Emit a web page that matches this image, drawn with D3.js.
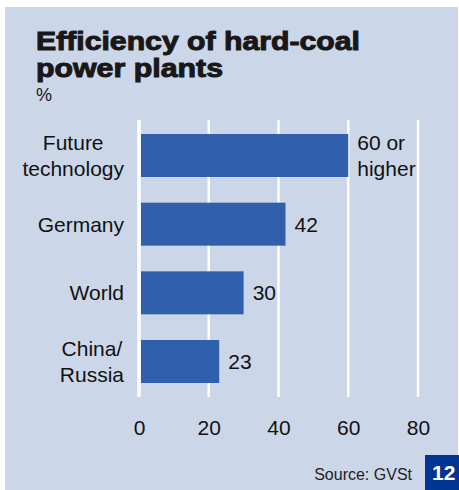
<!DOCTYPE html>
<html>
<head>
<meta charset="utf-8">
<script src="https://cdn.jsdelivr.net/npm/d3@7/dist/d3.min.js"></script>
<style>
  html, body { margin: 0; padding: 0; background: #ffffff; }
  svg { display: block; }
  text { font-family: "Liberation Sans", Arial, Helvetica, sans-serif; }
</style>
</head>
<body>
<script>
// ---- data ----
const categories = [["Future", "technology"], ["Germany"], ["World"], ["China/", "Russia"]];
const values = [60, 42, 30, 23];
const valueLabels = [["60 or", "higher"], ["42"], ["30"], ["23"]];
const tickValues = [0, 20, 40, 60, 80];
const titleLines = ["Efficiency of hard-coal", "power plants"];
const unitLabel = "%";
const sourceLabel = "Source: GVSt";
const pageNumber = "12";

const W = 459, H = 490;
const svg = d3.select("body").append("svg").attr("width", W).attr("height", H);

// background panel
svg.append("rect").attr("x", 5).attr("y", 7).attr("width", 453).attr("height", H - 7)
  .attr("fill", "#cbd7e9");

// title (one text element, two lines)
const title = svg.append("text").attr("font-size", 26).attr("font-weight", "bold")
  .attr("fill", "#1a1718").attr("stroke", "#1a1718").attr("stroke-width", 1);
const titleWidths = [324, 187];
titleLines.forEach((ln, j) => {
  title.append("tspan").attr("x", 36).attr("y", 50 + j * 27)
    .attr("textLength", titleWidths[j]).attr("lengthAdjust", "spacingAndGlyphs").text(ln);
});
svg.append("text").attr("x", 36).attr("y", 101).text(unitLabel)
  .attr("font-size", 18).attr("fill", "#1a1718");

// scales
const x = d3.scaleLinear().domain([0, 80]).range([139, 418]);
const y = d3.scaleBand().domain(d3.range(categories.length)).range([120, 397])
  .paddingInner(0.374).paddingOuter(0.204);

// grid lines
svg.append("g").selectAll("line").data(tickValues).join("line")
  .attr("x1", d => x(d)).attr("x2", d => x(d))
  .attr("y1", 120).attr("y2", 397)
  .attr("stroke", "#ffffff").attr("stroke-width", d => d === 0 ? 3.5 : 2.5);

// x axis labels
const xAxis = d3.axisBottom(x).tickValues(tickValues).tickSize(0).tickPadding(0).tickFormat(d3.format("d"));
const gx = svg.append("g").attr("transform", "translate(0,419)").call(xAxis);
gx.select(".domain").remove();
gx.selectAll("text").attr("font-size", 21).attr("fill", "#111").attr("dy", "0.76em")
  .attr("font-family", "Liberation Sans, Arial, sans-serif");

// bars
svg.append("g").selectAll("rect").data(values).join("rect")
  .attr("x", x(0) + 2).attr("y", (d, i) => y(i))
  .attr("width", d => x(d) - x(0) - 2).attr("height", y.bandwidth())
  .attr("fill", "#3060ab");

// category labels (block right-aligned at 124, lines centered within block)
const lh = 26;
categories.forEach((lines, i) => {
  const cy = y(i) + y.bandwidth() / 2;
  const g = svg.append("g");
  const texts = lines.map((ln, j) => g.append("text")
    .attr("y", cy + 7.5 + (j - (lines.length - 1) / 2) * lh)
    .attr("font-size", 21).attr("fill", "#111").text(ln));
  const widths = texts.map(t => t.node().getComputedTextLength());
  const maxW = d3.max(widths);
  const cx = 124 - maxW / 2;
  texts.forEach(t => t.attr("x", cx).attr("text-anchor", "middle"));
});

// value labels
valueLabels.forEach((lines, i) => {
  const cy = y(i) + y.bandwidth() / 2;
  lines.forEach((ln, j) => {
    svg.append("text").attr("x", x(values[i]) + 9)
      .attr("y", cy + 7.5 + (j - (lines.length - 1) / 2) * lh)
      .attr("font-size", 21).attr("fill", "#111").text(ln);
  });
});

// source
svg.append("text").attr("x", 412).attr("y", 480).attr("text-anchor", "end")
  .attr("font-size", 16).attr("fill", "#222").text(sourceLabel);

// page number box
svg.append("rect").attr("x", 425).attr("y", 455).attr("width", 34).attr("height", 35)
  .attr("fill", "#003594");
svg.append("text").attr("x", 432).attr("y", 480).attr("font-size", 21)
  .attr("font-weight", "bold").attr("fill", "#ffffff").text(pageNumber);
</script>
</body>
</html>
